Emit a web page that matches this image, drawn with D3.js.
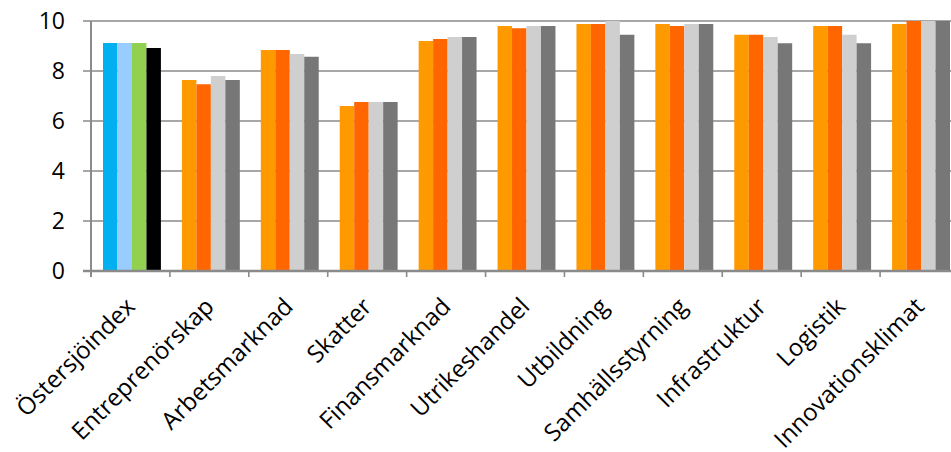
<!DOCTYPE html>
<html>
<head>
<meta charset="utf-8">
<script src="https://cdn.jsdelivr.net/npm/d3@7"></script>
<style>
  html, body { margin: 0; padding: 0; background: #fff; overflow: hidden; }
  svg { display: block; }
  text { font-family: "Open Sans", sans-serif; fill: #000; }
</style>
</head>
<body>
<svg id="chart" width="951" height="452"></svg>
<script>
const categories = ["Östersjöindex", "Entreprenörskap", "Arbetsmarknad", "Skatter", "Finansmarknad",
  "Utrikeshandel", "Utbildning", "Samhällsstyrning", "Infrastruktur", "Logistik", "Innovationsklimat"];
const seriesNames = ["Serie 1", "Serie 2", "Serie 3", "Serie 4"];
const serie1 = [9.12, 7.64, 8.84, 6.60, 9.20, 9.80, 9.88, 9.88, 9.45, 9.80, 9.88];
const serie2 = [9.12, 7.47, 8.84, 6.76, 9.28, 9.71, 9.88, 9.80, 9.45, 9.80, 10.0];
const serie3 = [9.12, 7.80, 8.68, 6.76, 9.36, 9.80, 10.0, 9.88, 9.36, 9.45, 10.0];
const serie4 = [8.92, 7.64, 8.57, 6.76, 9.36, 9.80, 9.45, 9.88, 9.11, 9.11, 10.0];
const seriesColors = ["#FF9900", "#FF6600", "#D0CFCF", "#777777"];
const highlightColors = ["#00B0F0", "#99CCFF", "#92D050", "#000000"];
const yTicks = [0, 2, 4, 6, 8, 10];

const allSeries = [serie1, serie2, serie3, serie4];
const svg = d3.select("#chart");
const plotLeft = 91, plotRight = 959, plotTop = 21, plotBottom = 271;

const x0 = d3.scaleBand().domain(categories).range([plotLeft, plotRight]).padding(0);
const x1 = d3.scaleBand().domain(d3.range(4)).range([12, x0.bandwidth() - 9]).padding(0);
const y = d3.scaleLinear().domain([0, 10]).range([plotBottom, plotTop]);

const gridColor = "#8A8A8A";

// gridlines + y ticks
svg.append("g").selectAll("line").data(yTicks.filter(d => d > 0)).join("line")
  .attr("x1", plotLeft - 8).attr("x2", plotRight)
  .attr("y1", d => y(d)).attr("y2", d => y(d))
  .attr("stroke", gridColor).attr("stroke-width", 1.6);

// bars
const groups = svg.append("g").selectAll("g").data(categories).join("g")
  .attr("transform", d => `translate(${x0(d)},0)`);
groups.selectAll("rect")
  .data((c, ci) => allSeries.map((s, si) => ({ ci, si, v: s[ci] })))
  .join("rect")
  .attr("x", d => x1(d.si))
  .attr("width", x1.bandwidth())
  .attr("y", d => y(d.v))
  .attr("height", d => y(0) - y(d.v))
  .attr("fill", d => d.ci === 0 ? highlightColors[d.si] : seriesColors[d.si]);

// y axis line
svg.append("line").attr("x1", plotLeft).attr("x2", plotLeft)
  .attr("y1", plotTop).attr("y2", plotBottom + 6)
  .attr("stroke", gridColor).attr("stroke-width", 2);
// x axis line
svg.append("line").attr("x1", plotLeft - 8).attr("x2", plotRight)
  .attr("y1", plotBottom).attr("y2", plotBottom)
  .attr("stroke", gridColor).attr("stroke-width", 2.4);
// x tick marks at band boundaries
const boundaries = categories.map(c => x0(c)).concat([plotRight]);
svg.append("g").selectAll("line").data(boundaries).join("line")
  .attr("x1", d => d).attr("x2", d => d)
  .attr("y1", plotBottom).attr("y2", plotBottom + 6)
  .attr("stroke", gridColor).attr("stroke-width", 1.6);

// y labels
svg.append("g").selectAll("text").data(yTicks).join("text")
  .attr("x", 65).attr("y", d => y(d)).attr("dy", "0.36em")
  .attr("text-anchor", "end").style("font-size", "23px")
  .text(d => d);

// x labels
svg.append("g").selectAll("text").data(categories).join("text")
  .attr("transform", d => `translate(${x0(d) + x0.bandwidth() / 2 + 6},308) rotate(-45)`)
  .attr("text-anchor", "end").style("font-size", "24px")
  .text(d => d);
</script>
</body>
</html>
